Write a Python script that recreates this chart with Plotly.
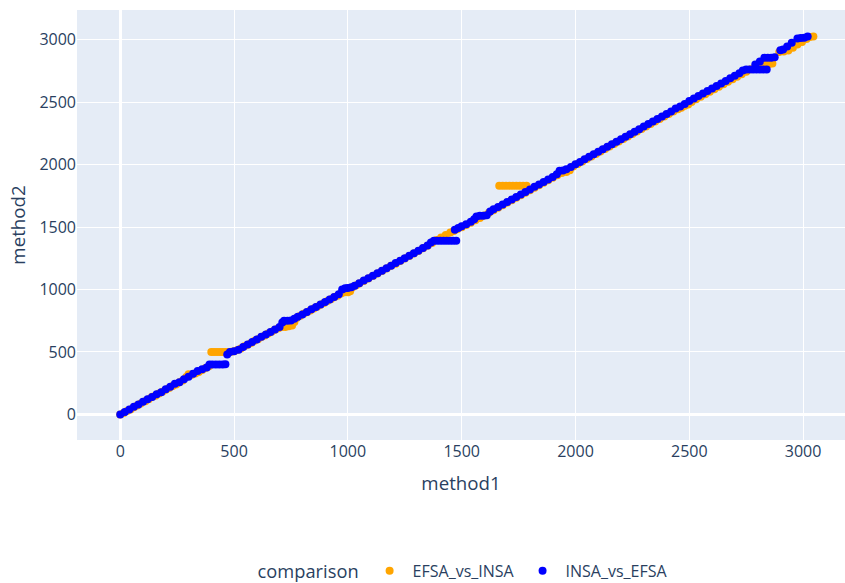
import plotly.graph_objects as go

# EFSA_vs_INSA (orange)
efsa_x = [0, 15, 30, 45, 60, 75, 90, 110, 125, 140,
          155, 170, 185, 200, 215, 230, 245, 260, 275, 290,
          300, 315, 330, 345, 360, 375, 390, 400, 412, 425,
          438, 450, 462, 475, 488, 500, 515, 530, 545, 560,
          575, 590, 605, 620, 635, 650, 665, 680, 695, 710,
          725, 740, 755, 765, 775, 790, 805, 820, 835, 850,
          865, 880, 895, 910, 925, 940, 955, 970, 985, 1000,
          1010, 1020, 1035, 1050, 1070, 1090, 1110, 1130, 1150, 1170,
          1190, 1210, 1230, 1250, 1270, 1290, 1310, 1330, 1350, 1370,
          1390, 1410, 1430, 1450, 1465, 1480, 1500, 1520, 1540, 1560,
          1580, 1600, 1620, 1640, 1660, 1665, 1680, 1695, 1710, 1725,
          1740, 1755, 1770, 1785, 1680, 1700, 1720, 1740, 1760, 1780,
          1800, 1820, 1840, 1860, 1880, 1900, 1920, 1940, 1960, 1975,
          1990, 2010, 2030, 2050, 2070, 2090, 2110, 2130, 2150, 2170,
          2190, 2210, 2230, 2250, 2270, 2290, 2310, 2330, 2350, 2370,
          2390, 2410, 2430, 2450, 2465, 2480, 2495, 2510, 2530, 2550,
          2570, 2590, 2610, 2630, 2650, 2670, 2690, 2710, 2730, 2750,
          2770, 2790, 2810, 2830, 2850, 2865, 2895, 2915, 2935, 2955,
          2975, 2995, 3015, 3030, 3045]
efsa_y = [0, 12, 28, 40, 58, 72, 88, 105, 122, 142,
          150, 168, 182, 198, 212, 228, 240, 258, 272, 300,
          322, 318, 328, 340, 355, 372, 385, 500, 500, 500,
          500, 500, 500, 500, 502, 505, 515, 528, 545, 558,
          572, 590, 602, 620, 632, 648, 662, 678, 690, 700,
          700, 705, 712, 740, 772, 788, 805, 818, 832, 848,
          862, 878, 892, 908, 922, 938, 950, 968, 978, 978,
          985, 1018, 1032, 1048, 1068, 1088, 1108, 1128, 1148, 1168,
          1190, 1205, 1228, 1248, 1268, 1288, 1308, 1330, 1350, 1372,
          1395, 1415, 1435, 1455, 1468, 1482, 1498, 1515, 1535, 1555,
          1572, 1592, 1615, 1635, 1655, 1830, 1830, 1830, 1830, 1830,
          1830, 1830, 1830, 1830, 1675, 1695, 1715, 1735, 1755, 1775,
          1795, 1815, 1835, 1855, 1875, 1895, 1915, 1932, 1940, 1955,
          1985, 2005, 2025, 2045, 2065, 2085, 2105, 2125, 2145, 2165,
          2185, 2205, 2225, 2245, 2265, 2285, 2305, 2325, 2345, 2365,
          2385, 2405, 2425, 2442, 2455, 2470, 2480, 2500, 2522, 2542,
          2562, 2582, 2602, 2622, 2642, 2662, 2682, 2702, 2722, 2742,
          2762, 2782, 2795, 2800, 2805, 2808, 2900, 2905, 2912, 2935,
          2960, 2980, 3005, 3020, 3025]

# INSA_vs_EFSA (blue)
insa_x = [0, 20, 40, 60, 80, 100, 120, 140, 160, 180,
          200, 220, 240, 260, 280, 300, 320, 340, 360, 380,
          392, 405, 420, 435, 450, 462, 470, 482, 500, 520,
          540, 560, 580, 600, 620, 640, 660, 680, 700, 712,
          720, 735, 750, 765, 780, 800, 820, 840, 860, 880,
          900, 920, 940, 960, 975, 988, 1000, 1015, 1030, 1050,
          1070, 1090, 1110, 1130, 1150, 1170, 1190, 1210, 1230, 1250,
          1270, 1290, 1310, 1330, 1350, 1365, 1378, 1392, 1406, 1420,
          1434, 1448, 1462, 1476, 1470, 1485, 1500, 1520, 1540, 1555,
          1565, 1580, 1595, 1610, 1625, 1640, 1660, 1680, 1700, 1720,
          1740, 1760, 1780, 1800, 1820, 1840, 1860, 1880, 1900, 1918,
          1930, 1945, 1960, 1980, 2000, 2020, 2040, 2060, 2080, 2100,
          2120, 2140, 2160, 2180, 2200, 2220, 2240, 2260, 2280, 2300,
          2320, 2340, 2360, 2380, 2400, 2420, 2440, 2460, 2480, 2500,
          2520, 2540, 2560, 2580, 2600, 2620, 2640, 2660, 2680, 2700,
          2720, 2735, 2750, 2765, 2780, 2795, 2810, 2825, 2840, 2790,
          2810, 2830, 2845, 2860, 2875, 2900, 2912, 2930, 2950, 2975,
          2990, 3005, 3020]
insa_y = [0, 20, 40, 62, 80, 102, 122, 140, 162, 178,
          202, 222, 245, 258, 282, 302, 325, 348, 362, 375,
          400, 400, 400, 400, 400, 402, 480, 500, 505, 518,
          540, 560, 580, 600, 622, 640, 660, 680, 700, 735,
          750, 750, 752, 765, 782, 800, 820, 842, 860, 880,
          900, 920, 940, 962, 1000, 1010, 1012, 1018, 1030, 1050,
          1072, 1090, 1110, 1130, 1150, 1170, 1190, 1212, 1230, 1250,
          1270, 1290, 1310, 1332, 1352, 1375, 1390, 1390, 1390, 1390,
          1390, 1390, 1390, 1390, 1478, 1492, 1505, 1522, 1542, 1562,
          1585, 1590, 1590, 1595, 1625, 1642, 1660, 1680, 1700, 1720,
          1740, 1760, 1780, 1800, 1822, 1840, 1860, 1880, 1900, 1922,
          1950, 1952, 1962, 1980, 2002, 2020, 2042, 2062, 2082, 2102,
          2122, 2142, 2162, 2182, 2202, 2222, 2243, 2263, 2283, 2305,
          2325, 2345, 2365, 2385, 2405, 2425, 2448, 2465, 2485, 2508,
          2528, 2548, 2568, 2588, 2608, 2628, 2648, 2668, 2690, 2710,
          2730, 2752, 2760, 2760, 2760, 2760, 2760, 2760, 2760, 2800,
          2825, 2855, 2855, 2855, 2858, 2915, 2920, 2945, 2975, 3008,
          3012, 3015, 3025]

x_ticks = [0, 500, 1000, 1500, 2000, 2500, 3000]
y_ticks = [0, 500, 1000, 1500, 2000, 2500, 3000]

fig = go.Figure()
fig.add_trace(go.Scatter(x=efsa_x, y=efsa_y, mode="markers", name="EFSA_vs_INSA",
                         marker=dict(color="orange", size=8)))
fig.add_trace(go.Scatter(x=insa_x, y=insa_y, mode="markers", name="INSA_vs_EFSA",
                         marker=dict(color="blue", size=8)))

fig.update_layout(
    template="plotly",
    width=845, height=583,
    margin=dict(l=77, r=0, t=10, b=143, autoexpand=False),
    font=dict(family="Open Sans", size=16, color="#2a3f5f"),
    legend=dict(orientation="h", x=0.504, xanchor="center", y=-0.265, yanchor="top",
                itemwidth=36,
                title=dict(text="comparison", font=dict(size=18.3)),
                font=dict(size=16)),
    xaxis=dict(title=dict(text="method1", font=dict(size=18.7)), range=[-190, 3184],
               tickvals=x_ticks, gridwidth=1.33, zerolinewidth=2.67),
    yaxis=dict(title=dict(text="method2", font=dict(size=18.7), standoff=8), range=[-205, 3237],
               tickvals=y_ticks, gridwidth=1.33, zerolinewidth=2.67),
)

fig.write_html("out.html", config={"displayModeBar": False},
               post_script="document.body.style.margin='0';document.body.style.overflow='hidden';")
